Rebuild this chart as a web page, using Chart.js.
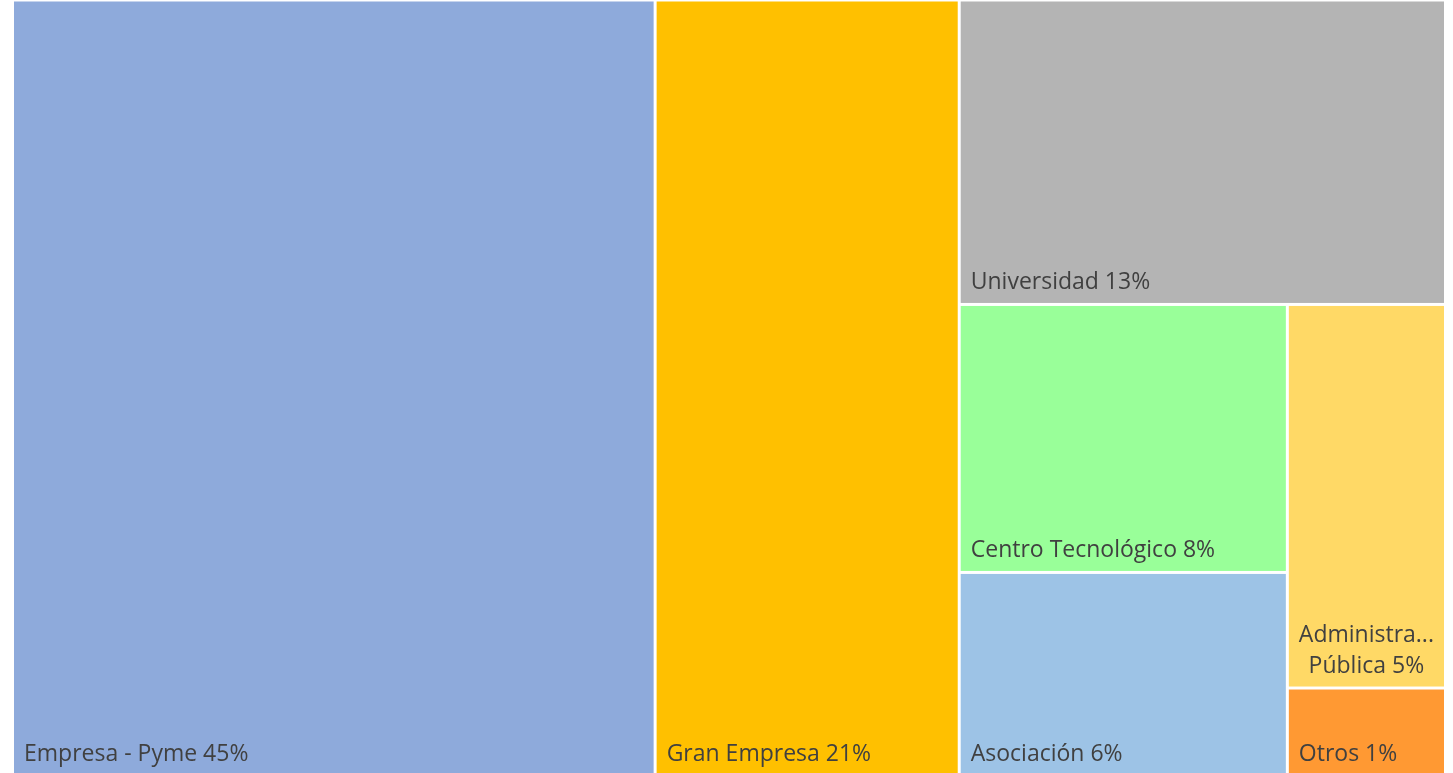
<!DOCTYPE html>
<html>
<head>
<meta charset="utf-8">
<script src="https://cdn.jsdelivr.net/npm/chart.js@4.4.0/dist/chart.umd.min.js"></script>
<style>
  html, body { margin: 0; padding: 0; background: #fff; overflow: hidden; }
  #wrap { width: 1453px; height: 776px; position: relative; }
</style>
</head>
<body>
<div id="wrap"><canvas id="myChart"></canvas></div>
<script>
// setup
const categories = ['Empresa - Pyme', 'Gran Empresa', 'Universidad', 'Centro Tecnológico', 'Asociación', 'Administración Pública', 'Otros'];
const values = [44.8, 21.2, 13.3, 7.9, 6.0, 5.45, 1.25];
const colors = ['#8EAADB', '#FFC000', '#B4B4B4', '#99FF99', '#9DC3E6', '#FFD966', '#FF9933'];

const total = values.reduce((a, b) => a + b, 0);

// squarified layout (d3 style, ratio param) in pixel space
function squarify(items, W, H, ratio) {
  const out = [];
  let x0 = 0, y0 = 0, x1 = W, y1 = H;
  let value = items.reduce((a, it) => a + it.value, 0);
  let i0 = 0;
  const n = items.length;
  while (i0 < n) {
    const dx = x1 - x0, dy = y1 - y0;
    let i1 = i0;
    let sumValue = items[i1++].value;
    let minV = sumValue, maxV = sumValue;
    const alpha = Math.max(dy / dx, dx / dy) / (value * ratio);
    let beta = sumValue * sumValue * alpha;
    let minRatio = Math.max(maxV / beta, beta / minV);
    for (; i1 < n; i1++) {
      const v = items[i1].value;
      sumValue += v;
      if (v < minV) minV = v;
      if (v > maxV) maxV = v;
      beta = sumValue * sumValue * alpha;
      const newRatio = Math.max(maxV / beta, beta / minV);
      if (newRatio > minRatio) { sumValue -= v; break; }
      minRatio = newRatio;
    }
    const row = items.slice(i0, i1);
    if (dx < dy) {
      const h = dy * sumValue / value;
      let x = x0;
      row.forEach(it => {
        const w = dx * it.value / sumValue;
        out.push(Object.assign({}, it, { x0: x, x1: x + w, y0: y0, y1: y0 + h }));
        x += w;
      });
      y0 += h;
    } else {
      const w = dx * sumValue / value;
      let y = y0;
      row.forEach(it => {
        const h = dy * it.value / sumValue;
        out.push(Object.assign({}, it, { x0: x0, x1: x0 + w, y0: y, y1: y + h }));
        y += h;
      });
      x0 += w;
    }
    value -= sumValue;
    i0 = i1;
  }
  return out;
}

function wrapLabel(ctx, text, maxW) {
  const words = text.split(' ');
  const lines = [];
  let cur = '';
  words.forEach(w => {
    const test = cur ? cur + ' ' + w : w;
    if (ctx.measureText(test).width <= maxW || !cur) {
      cur = test;
    } else {
      lines.push(cur);
      cur = w;
    }
  });
  if (cur) lines.push(cur);
  return lines.map(l => {
    if (ctx.measureText(l).width <= maxW) return l;
    let s = l;
    while (s.length > 1 && ctx.measureText(s + '...').width > maxW) s = s.slice(0, -1);
    return s + '...';
  });
}

const treemapPlugin = {
  id: 'treemap',
  afterDatasetsDraw(chart) {
    const { ctx, chartArea, scales: { x, y } } = chart;
    const W = chartArea.right - chartArea.left;
    const H = chartArea.bottom - chartArea.top;
    const items = categories.map((c, i) => ({ label: c, value: values[i], color: colors[i] }))
      .sort((a, b) => b.value - a.value);
    const rects = squarify(items, W, H, 0.803);
    const gap = 1.5;
    ctx.save();
    rects.forEach(r => {
      const left = x.getPixelForValue(r.x0 / W) + gap;
      const right = x.getPixelForValue(r.x1 / W) - gap;
      const top = y.getPixelForValue(1 - r.y0 / H) + gap;
      const bottom = y.getPixelForValue(1 - r.y1 / H) - gap;
      ctx.fillStyle = r.color;
      ctx.fillRect(left, top, right - left, bottom - top);

      ctx.font = '23px "Open Sans", sans-serif';
      ctx.fillStyle = '#404040';
      ctx.textBaseline = 'alphabetic';
      ctx.textAlign = 'center';
      const pct = Math.round(r.value / total * 100);
      const lines = wrapLabel(ctx, r.label + ' ' + pct + '%', right - left - 18);
      const blockW = Math.max(...lines.map(l => ctx.measureText(l).width));
      const cx = left + 10 + blockW / 2;
      const lh = 31;
      lines.forEach((l, k) => {
        ctx.fillText(l, cx, bottom - 14 - (lines.length - 1 - k) * lh);
      });
    });
    ctx.restore();
  }
};

// config
const config = {
  type: 'scatter',
  data: {
    datasets: [{ label: 'Participación', data: [] }]
  },
  options: {
    responsive: true,
    maintainAspectRatio: false,
    animation: false,
    layout: { padding: { left: 12.5, right: 7.5, top: 0, bottom: 0 } },
    plugins: { legend: { display: false }, tooltip: { enabled: false } },
    scales: {
      x: { type: 'linear', min: 0, max: 1, display: false },
      y: { type: 'linear', min: 0, max: 1, display: false }
    }
  },
  plugins: [treemapPlugin]
};

// render init block
const myChart = new Chart(document.getElementById('myChart'), config);
</script>
</body>
</html>
